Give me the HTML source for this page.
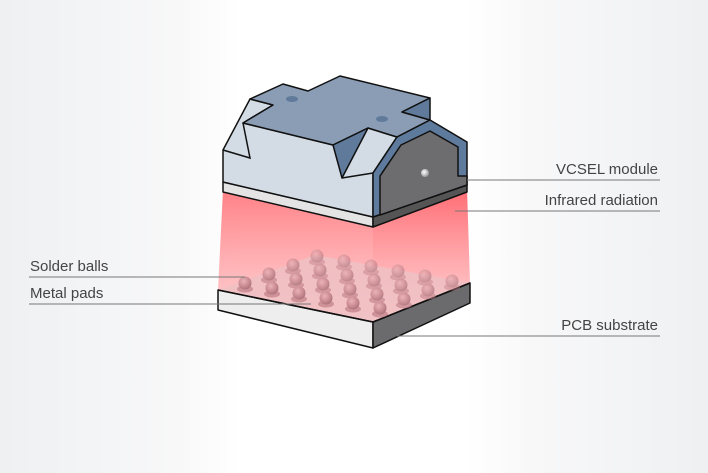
<!DOCTYPE html>
<html><head><meta charset="utf-8"><style>
html,body{margin:0;padding:0;}
body{width:708px;height:473px;overflow:hidden;background:linear-gradient(90deg,#eef0f2 0%,#f8f8f9 25%,#ffffff 34%,#ffffff 66%,#f8f8f9 75%,#eef0f2 100%);font-family:"Liberation Sans",sans-serif;}
svg{position:absolute;left:0;top:0;}
</style></head><body>
<svg width="708" height="473" viewBox="0 0 708 473">
<defs>
<linearGradient id="beamL" x1="0" y1="0" x2="0" y2="1">
<stop offset="0" stop-color="#ff6a70" stop-opacity="0.85"/>
<stop offset="1" stop-color="#ff9a9e" stop-opacity="0.45"/>
</linearGradient>
<linearGradient id="beamR" x1="0" y1="0" x2="0" y2="1">
<stop offset="0" stop-color="#ff5a62" stop-opacity="0.9"/>
<stop offset="1" stop-color="#ff9a9e" stop-opacity="0.45"/>
</linearGradient>
<radialGradient id="ball" cx="0.4" cy="0.35" r="0.7">
<stop offset="0" stop-color="#eab2b8"/>
<stop offset="0.6" stop-color="#c98a91"/>
<stop offset="1" stop-color="#a8707a"/>
</radialGradient>
<radialGradient id="dot" cx="0.4" cy="0.4" r="0.6">
<stop offset="0" stop-color="#ffffff"/>
<stop offset="1" stop-color="#999"/>
</radialGradient>
</defs>

<polygon points="223,190 373,225 373,322 218,290" fill="url(#beamL)"/>
<polygon points="373,225 467,188 470,283 373,322" fill="url(#beamR)"/>

<polygon points="218,290 315,255 470,283 373,322" fill="#efc0c3" opacity="0.9"/>
<polygon points="218,290 373,322 373,348 218,310" fill="#eeeeee" stroke="#111" stroke-width="1.5" stroke-linejoin="round"/>
<polygon points="373,322 470,283 470,303 373,348" fill="#6b6b6d" stroke="#111" stroke-width="1.5" stroke-linejoin="round"/>
<line x1="218" y1="290" x2="373" y2="322" stroke="#111" stroke-width="1.5"/>
<line x1="373" y1="322" x2="470" y2="283" stroke="#111" stroke-width="1.5"/>

<g id="balls"></g>

<polygon points="223,182 373,217 373,227 223,192" fill="#e4e4e4" stroke="#111" stroke-width="1.5" stroke-linejoin="round"/>
<polygon points="373,217 467,185 467,192 373,227" fill="#555" stroke="#111" stroke-width="1.5" stroke-linejoin="round"/>
<polygon points="223,150 250,99 273,105 243,123 333,145 368,128 397,137 373,173 373,217 223,182" fill="#d3dce5" stroke="#111" stroke-width="1.5" stroke-linejoin="round"/>
<polygon points="250,99 283,84 308,91 340,76 430,98 402,112 430,120 397,137 368,128 333,145 243,123 273,105" fill="#8a9db5" stroke="#111" stroke-width="1.5" stroke-linejoin="round"/>
<polygon points="333,145 368,128 342,178" fill="#5f7a9a" stroke="#111" stroke-width="1.5" stroke-linejoin="round"/>
<polygon points="402,112 430,98 430,120" fill="#5f7a9a" stroke="#111" stroke-width="1.5" stroke-linejoin="round"/>
<polyline points="243,123 250,158 223,150" fill="none" stroke="#111" stroke-width="1.5"/>
<polyline points="342,178 373,173" fill="none" stroke="#111" stroke-width="1.5"/>
<polygon points="373,217 373,173 397,137 430,120 467,142 467,185" fill="#5e7a9c" stroke="#111" stroke-width="1.5" stroke-linejoin="round"/>
<polygon points="380,215 380,176 401,145 430,131 458,147 458,176 467,176 467,185" fill="#6d6d70" stroke="#111" stroke-width="1.5" stroke-linejoin="round"/>
<circle cx="425" cy="173" r="4" fill="url(#dot)"/>
<ellipse cx="292" cy="99" rx="6" ry="3" fill="#5f7a9a"/>
<ellipse cx="382" cy="119" rx="6" ry="3" fill="#5f7a9a"/>

<g stroke="#777" stroke-width="1">
<line x1="467" y1="180" x2="660" y2="180"/>
<line x1="455" y1="211" x2="660" y2="211"/>
<line x1="397" y1="336" x2="660" y2="336"/>
<line x1="29" y1="277" x2="245" y2="277"/>
<line x1="29" y1="304" x2="311" y2="304"/>
</g>
<g font-size="15" fill="#444">
<text x="658" y="174" text-anchor="end">VCSEL module</text>
<text x="658" y="205" text-anchor="end">Infrared radiation</text>
<text x="658" y="330" text-anchor="end">PCB substrate</text>
<text x="30" y="271">Solder balls</text>
<text x="30" y="298">Metal pads</text>
</g>
</svg>
<script>
var g=document.getElementById('balls'),s='';
var list=[];
for(var i=3;i>=0;i--)for(var j=0;j<6;j++){
 var x=245+i*24+j*27, y=283-i*9+j*5;
 list.push([x,y,i]);
}
list.sort(function(a,b){return a[1]-b[1];});
list.forEach(function(p){
 var x=p[0],y=p[1],op=1-p[2]*0.12;
 s+='<g opacity="'+op+'"><ellipse cx="'+x+'" cy="'+(y+6)+'" rx="8" ry="3.5" fill="#c07e86" opacity="0.7"/>';
 s+='<circle cx="'+x+'" cy="'+y+'" r="6.5" fill="url(#ball)"/></g>';
});
g.innerHTML=s;
</script>
</body></html>
